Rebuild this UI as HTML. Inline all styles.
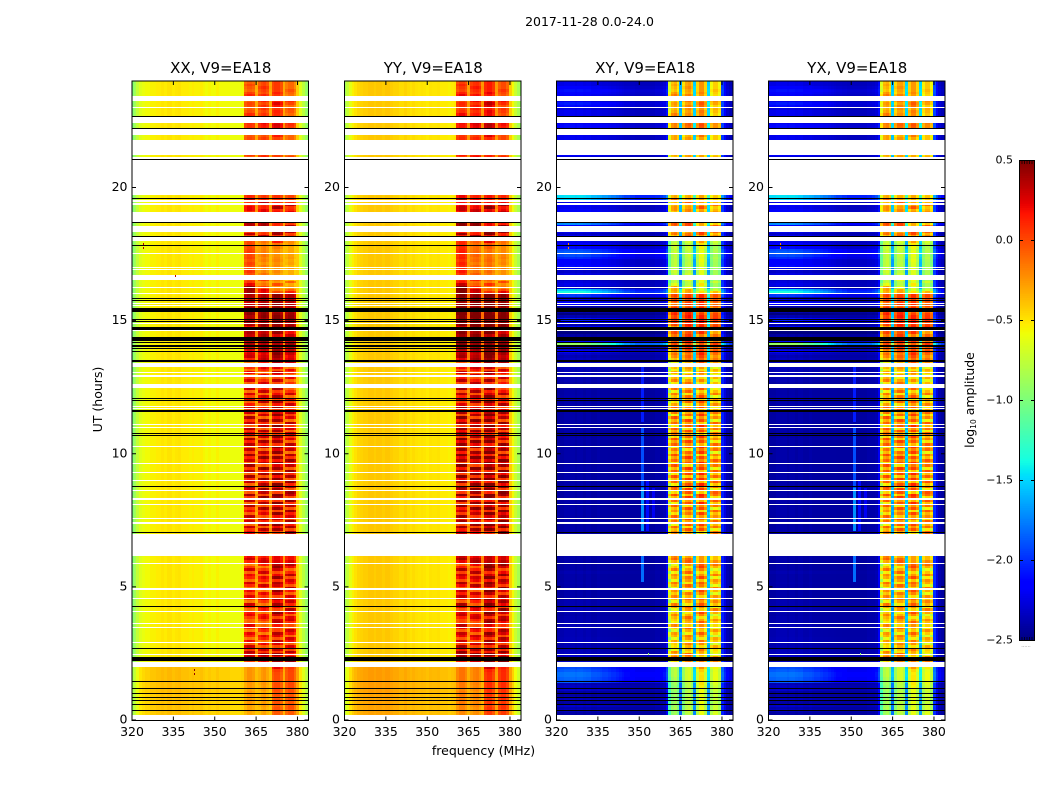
<!DOCTYPE html>
<html>
<head>
<meta charset="utf-8">
<title>2017-11-28 0.0-24.0</title>
<style>
html,body{margin:0;padding:0;background:#fff;}
svg{display:block;}
text{font-family:"DejaVu Sans","Liberation Sans",sans-serif;fill:#000;}
</style>
</head>
<body>
<svg id="chart" xmlns="http://www.w3.org/2000/svg" width="1050" height="800" viewBox="0 0 1050 800">
<text x="589.5" y="26" font-size="12.5" text-anchor="middle">2017-11-28 0.0-24.0</text>
<text x="483.5" y="755" font-size="12.5" text-anchor="middle">frequency (MHz)</text>
<text transform="translate(102,399.5) rotate(-90)" font-size="12.5" text-anchor="middle">UT (hours)</text>
<text transform="translate(974,400) rotate(-90)" font-size="12.5" text-anchor="middle">log<tspan font-size="7.5" dy="2">10</tspan><tspan dy="-2"> amplitude</tspan></text>
<text x="1026" y="647" font-size="5" text-anchor="middle" style="fill:#777">......</text>
</svg>
<script>
var panelTitles = ["XX, V9=EA18", "YY, V9=EA18", "XY, V9=EA18", "YX, V9=EA18"];
var xTicks = [320, 335, 350, 365, 380];
var yTicks = [0, 5, 10, 15, 20];
var colorbarTicks = [0.5, 0.0, -0.5, -1.0, -1.5, -2.0, -2.5];

/* time-averaged spectrum per channel, log10 amplitude; first channel starts at 319.6 MHz */
var spectrumXX = [-.95,-.85,-.72,-.62,-.58,-.55,-.55,-.52,-.52,-.5,-.5,-.48,-.5,-.47,-.47,-.5,-.48,-.47,-.5,-.5,-.5,-.52,-.5,-.52,-.52,-.5,-.53,-.55,-.53,-.55,-.55,-.52,-.55,-.55,-.55,-.55,-.57,-.57,-.57,-.57,-.55,-.05,.02,.02,-.02,-.3,-.05,.02,.05,-.02,-.3,.02,.08,.08,.0,-.3,-.05,.02,.02,-.1,-.4,-.62,-.75,-.88,-.92];
var spectrumYY = [-.85,-.72,-.6,-.52,-.47,-.43,-.42,-.4,-.4,-.38,-.38,-.4,-.38,-.38,-.4,-.38,-.38,-.4,-.42,-.42,-.45,-.45,-.42,-.45,-.47,-.45,-.47,-.48,-.47,-.48,-.5,-.47,-.48,-.48,-.47,-.5,-.5,-.5,-.52,-.5,-.48,.05,.12,.12,.05,-.25,.05,.1,.12,.05,-.25,.12,.18,.18,.08,-.25,.05,.12,.12,.02,-.4,-.55,-.7,-.82,-.9];
var spectrumXY = [-2.42,-2.42,-2.42,-2.4,-2.4,-2.4,-2.4,-2.42,-2.4,-2.4,-2.42,-2.4,-2.4,-2.42,-2.42,-2.4,-2.42,-2.42,-2.42,-2.42,-2.42,-2.42,-2.42,-2.42,-2.42,-2.42,-2.42,-2.42,-2.42,-2.42,-2.42,-2.42,-2.42,-2.42,-2.42,-2.42,-2.4,-2.4,-2.4,-2.38,-2.2,-.72,-.42,-.35,-.52,-1.7,-.55,-.35,-.3,-.45,-1.6,-.5,-.28,-.28,-.5,-1.6,-.55,-.4,-.4,-.55,-2.05,-2.25,-2.38,-2.42,-2.42];
var spectrumYX = [-2.42,-2.42,-2.42,-2.4,-2.4,-2.4,-2.4,-2.42,-2.4,-2.4,-2.42,-2.4,-2.4,-2.42,-2.42,-2.4,-2.42,-2.42,-2.42,-2.42,-2.42,-2.42,-2.42,-2.42,-2.42,-2.42,-2.42,-2.42,-2.42,-2.42,-2.42,-2.42,-2.42,-2.42,-2.42,-2.42,-2.4,-2.4,-2.4,-2.38,-2.2,-.7,-.4,-.34,-.5,-1.65,-.52,-.34,-.32,-.44,-1.58,-.48,-.3,-.3,-.5,-1.58,-.52,-.38,-.38,-.55,-2.0,-2.25,-2.38,-2.42,-2.42];

/* how strongly each channel follows the in-band row gain */
var bandWeight = [0,0,0,0,0,0,0,0,0,0,0,0,0,0,0,0,0,0,0,0,0,0,0,0,0,0,0,0,0,0,0,0,0,0,0,0,0,0,0,0,0,1,1,1,1,.3,1,1,1,1,.3,1,1,1,1,.3,1,1,1,1,0,0,0,0,0];
/* how strongly each channel follows the out-of-band cross-hand row level */
var crossWeight = [1,1,1,1,1,1,1,1,1,1,1,.95,.95,.9,.9,.85,.85,.8,.8,.75,.7,.7,.65,.6,.55,.5,.5,.45,.45,.4,.4,.4,.4,.4,.4,.4,.4,.4,.45,.5,.5,0,0,0,0,.4,0,0,0,0,.4,0,0,0,0,.4,0,0,0,0,.4,.4,.35,.3,.3];

/* out-of-band level per hour for parallel hands */
var hourBaseCo = [.1,.12,-.02,-.02,-.02,-.02,-.02,-.02,-.02,-.02,-.02,-.02,-.02,-.02,-.02,-.02,-.02,-.02,-.02,-.02,-.02,-.02,-.02,-.02];

/* in-band gain per 0.1 h row (row 0 = 0.0 h) */
var rowBandCo = [
-.1,-.1,-.1,-.08,-.08,-.08,-.05,-.05,-.08,-.05,
-.05,-.08,-.05,-.05,-.03,-.03,-.03,-.03,-.03,-.03,
-.02,.02,.2,.36,.28,.36,.08,.3,-.06,.2,
-.14,.12,.22,-.16,.12,.24,-.1,-.1,.04,.22,
.18,-.12,.16,.32,-.14,.06,.26,.06,.22,-.14,
.12,.3,-.1,.14,.22,-.06,.3,.06,-.16,.14,
.3,.2,.1,.1,.1,.1,.1,.1,.1,.1,
.2,.06,.3,-.1,.3,.08,.34,-.06,.2,.06,
.34,-.12,.3,.02,.38,-.08,.26,.36,-.12,.3,
.06,.38,-.1,.32,.04,.38,-.14,.26,.1,.38,
.02,.3,-.12,.32,.1,.36,-.08,.26,.06,.32,
-.1,.28,.06,.36,-.14,.26,.04,.32,.12,-.1,
.3,.02,.26,-.12,.3,.08,-.08,.26,.06,-.12,
.2,-.12,.08,.2,-.16,.12,.3,.26,.22,.3,
.36,.34,.3,.38,.26,.32,.26,.14,.32,.38,
.34,.32,.4,.38,.36,.32,.26,.32,.3,.32,
.3,.32,.34,.12,-.05,-.1,.12,-.12,-.05,-.12,
-.12,-.08,-.14,-.08,-.1,-.06,-.08,-.1,-.1,-.1,
-.04,.0,.3,.02,.0,.32,.34,.34,.02,.02,
.06,.18,.18,.08,.04,.3,.08,.0,-.02,-.02,
-.05,-.05,-.05,-.05,-.05,-.05,-.05,-.05,-.05,-.05,
-.05,-.05,.04,.0,-.08,-.08,-.04,-.04,-.02,-.04,
-.1,-.1,.04,.04,.06,.1,.12,.08,-.04,-.1,
-.04,-.02,-.1,.02,.1,.0,-.12,-.08,-.02,-.1];

var rowBandCross = [
-.1,-.1,-.2,-.2,-.15,-.2,-.2,-.2,-.25,-.2,
-.25,-.2,-.25,-.2,-.2,-.15,-.1,-.1,-.1,-.1,
-.12,-.05,.16,.3,.14,.24,-.16,-.06,.0,.16,
-.18,.08,.18,-.22,.02,.24,-.1,.0,.08,.24,
.0,-.2,.1,.26,-.18,.04,.22,.0,.18,-.2,
.08,.26,-.18,.08,.18,-.14,.26,.0,-.2,.08,
.28,.2,0,0,0,0,0,0,0,0,
.18,.02,.28,-.18,.26,.04,.3,-.1,.16,.02,
.3,-.2,.26,.0,.34,-.1,.26,.34,-.18,.26,
.0,.34,-.14,.3,.0,.34,-.18,.26,.08,.34,
.0,.22,-.18,.3,.08,.34,-.1,.22,.04,.3,
-.14,.26,.04,.34,-.18,.22,.0,.3,.08,-.14,
.22,.0,.22,-.18,.26,.04,-.14,.22,.04,-.18,
.08,-.18,.0,.08,-.2,.0,.18,.26,.18,.3,
.4,.34,.28,.42,.2,.34,.26,.08,.34,.42,
.38,.34,.45,.4,.38,.28,.2,.34,.26,.34,
.3,.34,.34,.0,-.14,-.14,.0,-.14,-.08,-.14,
-.14,-.14,-.14,-.16,-.14,-.1,-.14,-.1,-.1,-.14,
-.06,.0,.24,.2,.06,.32,.36,.36,-.02,.0,
.0,.14,.14,.06,.0,.28,.06,.0,.0,.0,
.0,.0,.0,.0,.0,.0,.0,.0,.0,.0,
.0,.0,.06,.06,.0,.0,.08,.08,.08,.08,
.0,.0,.16,.16,.2,.2,.24,.2,.06,.0,
.06,.1,.0,.14,.2,.1,-.04,.0,.06,.0];

/* out-of-band level per 0.1 h row for cross hands */
var rowBaseCross = [
0,0,0,.06,.03,.1,.0,.08,.03,.0,
.0,.1,.08,.04,.55,.58,.62,.62,.55,.5,
.08,.08,.1,.1,.08,.06,.05,.04,.04,.08,
.05,.04,.04,.04,.05,.05,.03,.03,.03,.01,
.03,.05,.03,.03,.03,.01,.01,.01,.01,.01,
.01,.02,.01,.01,.01,.03,.01,.01,.01,.01,
.01,.01,.01,.01,.01,.01,.01,.01,.01,.01,
.02,.01,.01,.01,.01,.01,.01,.02,.02,.01,
.01,.01,.01,.01,.01,.01,.01,.01,.01,.01,
.01,.01,.01,.01,.02,.01,.01,.01,.01,.01,
.01,.01,.02,.01,.01,.02,.01,.01,.01,.01,
.01,.01,.01,.01,.01,.01,.01,.01,.01,.01,
.01,.02,.01,.01,.01,.01,.01,.04,.04,.04,
.04,.04,.06,.06,.1,.08,.04,.1,.22,.08,
.0,1.5,.3,-.1,.0,-.2,.0,.3,.03,.25,
.35,.03,-.1,.03,-.15,.03,.25,.15,.03,.45,
1.05,.9,.12,.18,.15,.1,.25,.16,.1,.18,
.3,.25,.25,.4,.5,.55,.5,.3,.24,.18,
.16,.2,.1,.18,.12,.24,.7,.8,.08,.08,
.25,.24,.2,.25,.16,.9,.95,.2,.16,.16,
.15,.15,.15,.15,.15,.15,.15,.15,.15,.15,
.15,.15,.25,.25,.2,.2,.2,.2,.2,.2,
.2,.2,.3,.3,.2,.25,.2,.2,.2,.15,
.3,.35,.18,.35,.22,.28,.32,.25,.18,.18];

/* extra offset per sub-band (four sub-bands) for each 2 h block */
var blockOffsetCo = [
[-.22,-.25,-.05,.02],[.0,-.02,.06,.06],[-.02,-.02,.08,.05],[.0,.03,.05,.08],
[.03,.06,.08,.06],[.03,.03,.08,.0],[.0,.0,.05,.0],[.05,.05,.05,.05],
[.1,-.12,-.2,-.22],[.03,.03,.03,.03],[.0,.05,.05,.0],[.02,.08,.08,-.02]];
var blockOffsetCross = [
[-.3,-.25,-.1,-.1],[-.05,.0,.0,-.05],[-.02,.0,.05,.0],[.0,.03,.03,.03],
[.03,.05,.08,.03],[.02,.02,.06,.0],[.0,.0,.02,.0],[.05,.05,.05,.05],
[-.25,-.3,-.2,-.3],[.0,.0,.0,.0],[.0,.0,.0,.0],[.02,.05,.05,-.02]];

/* per sub-band row lag so the stripes do not line up perfectly across sub-bands */
var subbandRowLag = [0, 1, 3, 2];

/* flagged intervals in hours: [start, end] */
var whiteBands = [[0,.17],[1.44,1.48],[1.98,2.17],[2.43,2.47],[2.88,2.92],[3.44,3.48],[3.62,3.66],[4.05,4.09],[4.53,4.57],[4.9,4.94],[5.85,5.89],[6.17,6.99],[7.38,7.42],[7.55,7.59],[8.09,8.13],[8.28,8.32],[8.59,8.63],[9,9.03],[9.3,9.33],[9.63,9.67],[10.26,10.29],[10.97,11],[11.07,11.1],[11.68,11.72],[11.75,11.78],[12.48,12.62],[12.9,12.95],[13.03,13.07],[13.24,13.39],[14.6,14.63],[14.87,14.9],[15.54,15.58],[15.64,15.68],[15.99,16.03],[16.22,16.26],[16.53,16.72],[16.9,16.94],[16.99,17.03],[17.49,17.53],[17.99,18.17],[18.33,18.56],[18.72,19.08],[19.36,19.4],[19.47,19.53],[19.7,21.15],[21.22,21.78],[21.97,22.21],[22.42,22.65],[22.98,23.02],[23.25,23.43]];
var blackBands = [[.34,.37],[.56,.59],[.71,.74],[.84,.87],[.97,1],[1.16,1.19],[1.42,1.45],[2.21,2.24],[2.27,2.36],[2.69,2.72],[4.24,4.27],[7.03,7.06],[8.74,8.77],[10.66,10.69],[10.75,10.78],[11.56,11.59],[11.63,11.66],[12,12.03],[12.06,12.09],[13.45,13.52],[13.84,13.87],[13.93,13.96],[14,14.03],[14.07,14.1],[14.15,14.18],[14.24,14.39],[14.66,14.77],[14.95,14.98],[15.04,15.07],[15.32,15.47],[15.72,15.76],[15.81,15.84],[17.81,17.84],[18.16,18.19],[18.69,18.72],[19.58,19.61],[21.03,21.07],[22.19,22.22],[22.64,22.67]];

/* narrow interference features in the cross hands */
var rfiChannel = [31, 31, 31, 31, 33, 35];
var rfiStart = [7.1, 8.7, 11.2, 5.2, 7.1, 7.6];
var rfiEnd = [8.7, 11, 13.3, 6.2, 9, 8.7];
var rfiLevel = [-1.7, -1.9, -2.05, -1.8, -2.1, -2.2];

/* isolated outlier pixels: panel index, frequency MHz, hour, value */
var speckPanel = [0,0,0,0,0,2,2,2,3,3,3];
var speckFreq = [324.1,324.1,335.6,342.4,342.4,324.1,324.1,353.2,324.1,324.1,353.2];
var speckHour = [17.9,17.75,16.72,1.9,1.78,17.9,17.75,2.5,17.9,17.75,2.5];
var speckValue = [.35,.35,.35,.45,.45,-.2,-.2,-.9,-.2,-.2,-.9];

var NS = 'http://www.w3.org/2000/svg';
var svg = document.getElementById('chart');
var panelLeft = [132, 344.5, 556.5, 768.5];
var panelWidth = 176.5;
var plotTop = 81;
var plotBottom = 720.5;
var xMin = 320, xMax = 384, tMax = 24;
var channelStart = 319.6;

function mk(tag, parent, attrs) {
  var el = document.createElementNS(NS, tag);
  for (var k in attrs) { el.setAttribute(k, attrs[k]); }
  parent.appendChild(el);
  return el;
}
function xScale(panel, f) { return panelLeft[panel] + (f - xMin) / (xMax - xMin) * panelWidth; }
function yScale(h) { return plotBottom - 0.5 - h / tMax * (plotBottom - 0.5 - plotTop); }

function lerpStops(stops, t) {
  for (var i = 1; i < stops.length; i++) {
    if (t <= stops[i][0]) {
      var a = stops[i - 1], b = stops[i];
      return a[1] + (b[1] - a[1]) * (t - a[0]) / (b[0] - a[0]);
    }
  }
  return stops[stops.length - 1][1];
}
function jet(value) {
  var t = Math.max(0, Math.min(1, (value + 2.5) / 3));
  var r = lerpStops([[0,0],[.35,0],[.66,1],[.89,1],[1,.5]], t);
  var g = lerpStops([[0,0],[.125,0],[.375,1],[.64,1],[.91,0],[1,0]], t);
  var b = lerpStops([[0,.5],[.11,1],[.34,1],[.65,0],[1,0]], t);
  return 'rgb(' + Math.round(r * 255) + ',' + Math.round(g * 255) + ',' + Math.round(b * 255) + ')';
}

var spectra = [spectrumXX, spectrumYY, spectrumXY, spectrumYX];

function cellValue(panel, c, r) {
  var cross = panel >= 2;
  var spec = spectra[panel];
  var block = Math.min(11, Math.floor(r / 20));
  var sub = Math.min(3, Math.max(0, Math.floor((c - 41) / 5)));
  var w = bandWeight[c];
  var v = spec[c];
  if (w > 0) {
    var rows = cross ? rowBandCross : rowBandCo;
    var lagged = Math.min(rows.length - 1, r + subbandRowLag[sub]);
    var gain = rows[lagged] + (cross ? blockOffsetCross : blockOffsetCo)[block][sub];
    v += gain * w;
  }
  if (cross) {
    v += rowBaseCross[r] * crossWeight[c];
    var h = r * 0.1;
    for (var i = 0; i < rfiChannel.length; i++) {
      if (rfiChannel[i] === c && h >= rfiStart[i] && h < rfiEnd[i]) { v = Math.max(v, rfiLevel[i]); }
    }
  } else if (w === 0) {
    v += hourBaseCo[Math.floor(r / 10)];
  }
  return v;
}

var defs = mk('defs', svg, {});
panelTitles.forEach(function (title, p) {
  var clip = mk('clipPath', defs, { id: 'clip' + p });
  mk('rect', clip, { x: panelLeft[p], y: plotTop, width: panelWidth, height: plotBottom - plotTop });

  var g = mk('g', svg, {});
  
  

  var cells = mk('g', g, { 'clip-path': 'url(#clip' + p + ')', 'shape-rendering': 'crispEdges' });
  
  

  for (var c = 0; c < spectra[p].length; c++) {
    var x0 = Math.round(xScale(p, channelStart + c));
    var x1 = Math.round(xScale(p, channelStart + c + 1));
    for (var r = 0; r < rowBandCo.length; r++) {
      var y0 = Math.round(yScale((r + 1) * 0.1));
      var y1 = Math.round(yScale(r * 0.1));
      var cell = mk('rect', cells, { x: x0, y: y0, width: x1 - x0, height: y1 - y0, fill: jet(cellValue(p, c, r)) });
      
      
    }
  }

  whiteBands.forEach(function (b) {
    var ry = Math.round(yScale(b[1]));
    var el = mk('rect', cells, { x: Math.floor(panelLeft[p]), y: ry, width: Math.ceil(panelWidth) + 1, height: Math.max(1, Math.round(yScale(b[0])) - ry), fill: '#fff' });
    
    
  });
  blackBands.forEach(function (b) {
    var ry = Math.round(yScale(b[1]));
    var el = mk('rect', cells, { x: Math.floor(panelLeft[p]), y: ry, width: Math.ceil(panelWidth) + 1, height: Math.max(1, Math.round(yScale(b[0])) - ry), fill: '#000' });
    
    
  });
  speckPanel.forEach(function (sp, i) {
    if (sp !== p) { return; }
    var el = mk('rect', cells, { x: Math.round(xScale(p, speckFreq[i])), y: Math.round(yScale(speckHour[i])), width: 1, height: 2, fill: jet(speckValue[i]) });
    
    
  });

  var frame = mk('rect', g, { x: panelLeft[p], y: plotTop, width: panelWidth, height: plotBottom - plotTop, fill: 'none', stroke: '#000', 'stroke-width': 1 });
  
  

  var t = mk('text', g, { x: panelLeft[p] + panelWidth / 2 + .5, y: 73, 'font-size': 15, 'text-anchor': 'middle' });
  t.textContent = title;
  
  

  xTicks.forEach(function (f) {
    var x = xScale(p, f);
    [[plotBottom, plotBottom - 4], [plotTop, plotTop + 4]].forEach(function (s) {
      var tick = mk('line', g, { x1: x, x2: x, y1: s[0], y2: s[1], stroke: '#000', 'stroke-width': 1 });
      
      
    });
    var lab = mk('text', g, { x: x, y: 736, 'font-size': 12.5, 'text-anchor': 'middle' });
    lab.textContent = f;
    
    
  });
  yTicks.forEach(function (h) {
    var y = yScale(h);
    [[panelLeft[p], panelLeft[p] + 4], [panelLeft[p] + panelWidth, panelLeft[p] + panelWidth - 4]].forEach(function (s) {
      var tick = mk('line', g, { x1: s[0], x2: s[1], y1: y, y2: y, stroke: '#000', 'stroke-width': 1 });
      
      
    });
    var lab = mk('text', g, { x: panelLeft[p] - 4.5, y: y + 3.5, 'font-size': 12.5, 'text-anchor': 'end' });
    lab.textContent = h;
    
    
  });
});

/* colorbar */
var cbX = 1019.5, cbW = 15, cbTop = 160.5, cbBottom = 640.5;
var cbMin = -2.5, cbMax = 0.5;
function cbY(v) { return cbBottom - (v - cbMin) / (cbMax - cbMin) * (cbBottom - cbTop); }
var cb = mk('g', svg, {});


var cbLevels = 256;
for (var i = 0; i < cbLevels; i++) {
  var v0 = cbMin + (cbMax - cbMin) * i / cbLevels;
  var v1 = cbMin + (cbMax - cbMin) * (i + 1) / cbLevels;
  var seg = mk('rect', cb, { x: cbX, y: cbY(v1).toFixed(2), width: cbW, height: (cbY(v0) - cbY(v1) + .5).toFixed(2), fill: jet((v0 + v1) / 2), 'shape-rendering': 'crispEdges' });
  
  
}
var cbFrame = mk('rect', cb, { x: cbX, y: cbTop, width: cbW, height: cbBottom - cbTop, fill: 'none', stroke: '#000', 'stroke-width': 1 });


colorbarTicks.forEach(function (v) {
  var y = cbY(v);
  [[cbX, cbX + 3.5], [cbX + cbW, cbX + cbW - 3.5]].forEach(function (s) {
    var tick = mk('line', cb, { x1: s[0], x2: s[1], y1: y, y2: y, stroke: '#000', 'stroke-width': 1 });
    
    
  });
  var lab = mk('text', cb, { x: 1013, y: y + 3, 'font-size': 11, 'text-anchor': 'end' });
  lab.textContent = v.toFixed(1).replace('-', '\u2212');
  
  
});
for (var k = 1; k < 6; k++) {
  var ex = cbX + k * 2.5;
  [[cbTop, cbTop + 3.5], [cbBottom, cbBottom - 3.5]].forEach(function (s) {
    var tick = mk('line', cb, { x1: ex, x2: ex, y1: s[0], y2: s[1], stroke: '#000', 'stroke-width': .7 });
    
    
  });
}
</script>
</body>
</html>
